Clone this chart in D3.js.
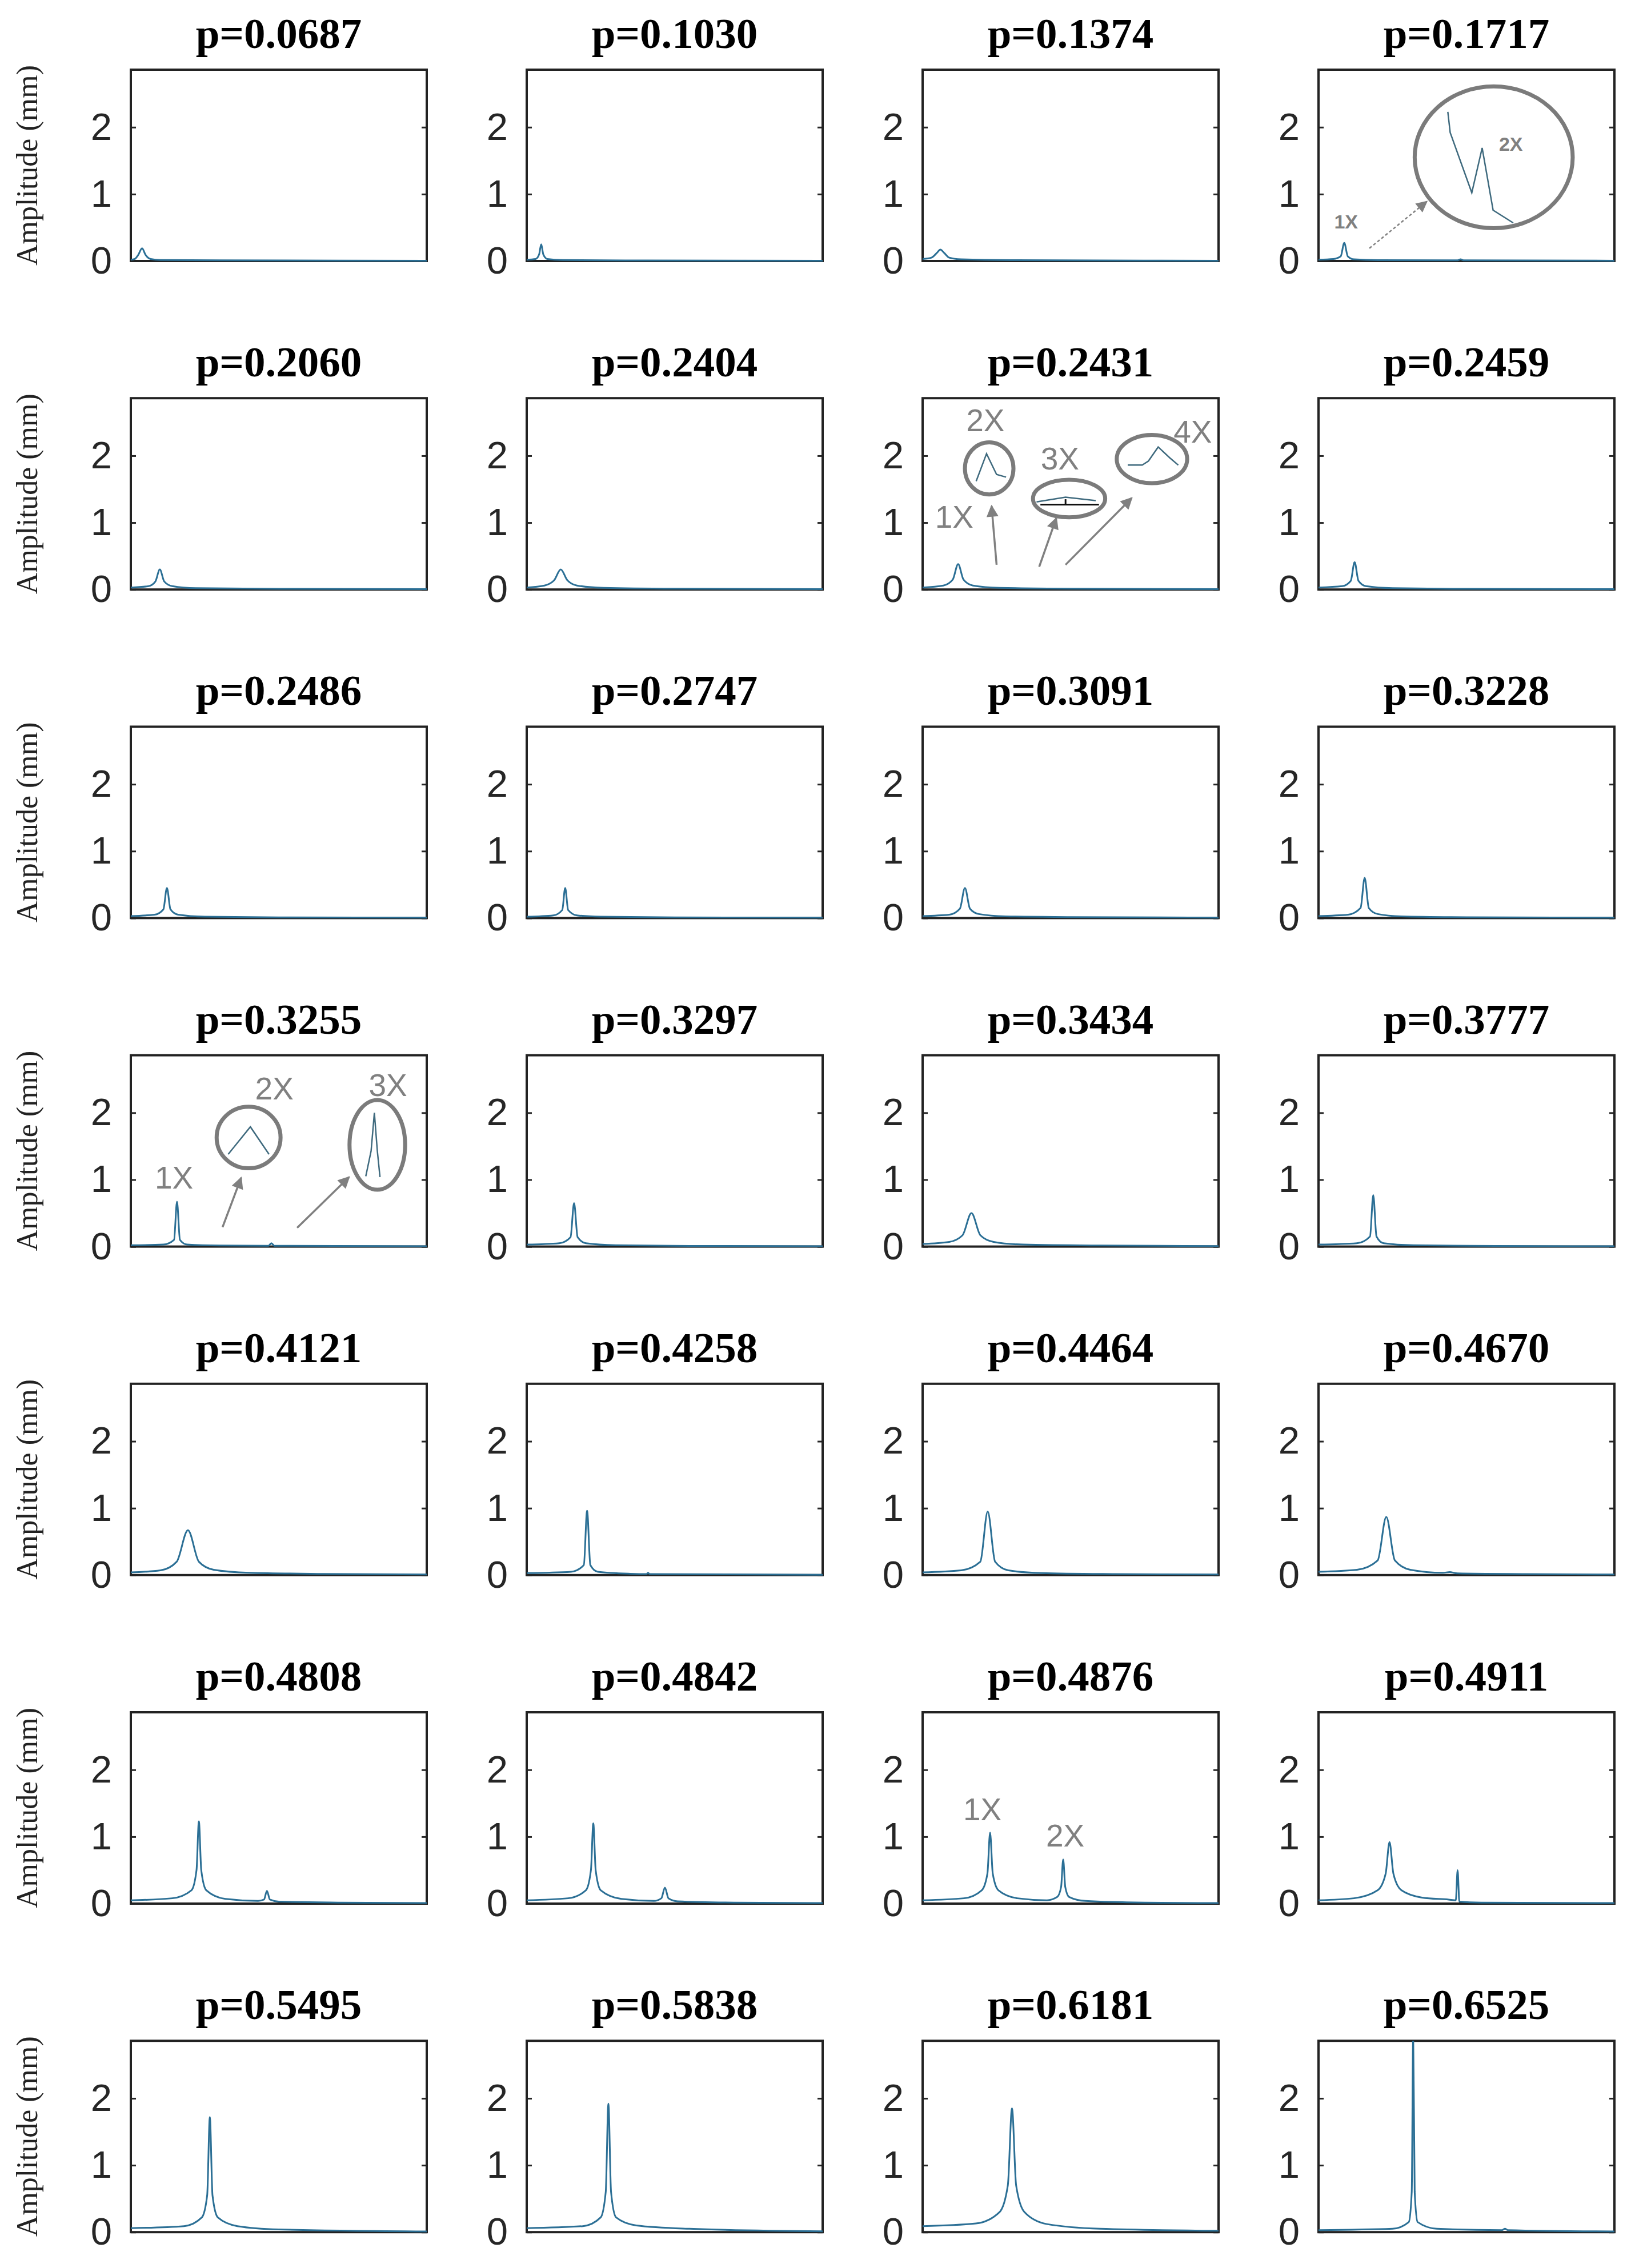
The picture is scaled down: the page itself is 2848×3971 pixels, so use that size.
<!DOCTYPE html>
<html><head><meta charset="utf-8">
<script src="https://cdn.jsdelivr.net/npm/d3@7"></script>
<style>html,body{margin:0;padding:0;background:#fff;} svg{display:block}</style>
</head><body><svg id="c" width="2848" height="3971"></svg>
<script>
// ---- Data (x = % of frequency span, y = amplitude in mm) ----
const titles = ["p=0.0687","p=0.1030","p=0.1374","p=0.1717",
  "p=0.2060","p=0.2404","p=0.2431","p=0.2459",
  "p=0.2486","p=0.2747","p=0.3091","p=0.3228",
  "p=0.3255","p=0.3297","p=0.3434","p=0.3777",
  "p=0.4121","p=0.4258","p=0.4464","p=0.4670",
  "p=0.4808","p=0.4842","p=0.4876","p=0.4911",
  "p=0.5495","p=0.5838","p=0.6181","p=0.6525"];
const yTicks = [0, 1, 2];
const yMax = 2.86;
const yLabel = "Amplitude (mm)";

const spec_0687 = [[0,0.02],[1.3,0.03],[2.5,0.09],[3.8,0.19],[5.0,0.09],[6.7,0.03],[10,0.015],[30,0.01],[100,0.005]];
const spec_1030 = [[0,0.02],[3,0.03],[4.2,0.1],[4.9,0.25],[5.6,0.1],[7,0.03],[12,0.015],[40,0.008],[100,0.005]];
const spec_1374 = [[0,0.03],[3,0.05],[4.8,0.12],[6.0,0.17],[7.3,0.12],[9,0.05],[13,0.025],[30,0.012],[100,0.005]];
const spec_1717 = [[0,0.02],[5,0.03],[7.5,0.07],[8.7,0.27],[9.9,0.07],[12,0.025],[20,0.012],[47,0.01],[48,0.025],[49,0.01],[100,0.005]];
const spec_2060 = [[0,0.03],[6,0.05],[8.3,0.12],[9.8,0.3],[11.3,0.12],[14,0.05],[22,0.02],[50,0.01],[100,0.005]];
const spec_2404 = [[0,0.03],[6,0.06],[9.3,0.14],[11.5,0.3],[13.7,0.14],[17,0.06],[26,0.025],[50,0.012],[100,0.006]];
const spec_2431 = [[0,0.03],[7,0.06],[10.2,0.15],[12,0.38],[13.8,0.15],[17,0.06],[26,0.025],[50,0.012],[100,0.006]];
const spec_2459 = [[0,0.03],[8,0.05],[10.9,0.13],[12.2,0.41],[13.5,0.13],[16,0.05],[25,0.02],[50,0.01],[100,0.005]];
const spec_2486 = [[0,0.03],[8,0.05],[11,0.13],[12.2,0.45],[13.4,0.13],[16,0.05],[25,0.02],[50,0.01],[100,0.005]];
const spec_2747 = [[0,0.02],[9,0.04],[12,0.12],[13,0.45],[14,0.12],[17,0.04],[25,0.02],[50,0.01],[100,0.005]];
const spec_3091 = [[0,0.03],[9,0.05],[12.6,0.14],[14.3,0.45],[16,0.14],[19,0.06],[28,0.025],[50,0.015],[100,0.006]];
const spec_3228 = [[0,0.03],[10,0.05],[14.2,0.15],[15.6,0.6],[17,0.15],[20,0.06],[28,0.025],[50,0.012],[100,0.005]];
const spec_3255 = [[0,0.02],[11,0.03],[14.6,0.1],[15.6,0.67],[16.6,0.1],[19,0.03],[30,0.015],[46.5,0.012],[47.5,0.05],[48.5,0.012],[100,0.005]];
const spec_3297 = [[0,0.03],[11,0.05],[14.8,0.14],[16,0.65],[17.2,0.14],[20,0.05],[30,0.02],[55,0.01],[100,0.005]];
const spec_3434 = [[0,0.04],[9,0.07],[13.5,0.17],[16.5,0.5],[19.5,0.17],[24,0.07],[34,0.03],[60,0.015],[100,0.008]];
const spec_3777 = [[0,0.03],[13,0.05],[17.4,0.15],[18.5,0.77],[19.6,0.15],[22,0.05],[32,0.02],[60,0.01],[100,0.005]];
const spec_4121 = [[0,0.04],[10,0.07],[15.5,0.2],[19.3,0.67],[23,0.2],[28,0.08],[40,0.035],[65,0.018],[100,0.01]];
const spec_4258 = [[0,0.03],[15,0.05],[19.3,0.15],[20.4,0.96],[21.5,0.15],[24,0.05],[35,0.02],[40.5,0.015],[41,0.035],[41.5,0.015],[100,0.005]];
const spec_4464 = [[0,0.04],[13,0.07],[19.5,0.2],[22,0.95],[24.5,0.2],[29,0.07],[40,0.03],[65,0.015],[100,0.008]];
const spec_4670 = [[0,0.05],[13,0.08],[20,0.22],[22.9,0.87],[25.8,0.22],[31,0.08],[42,0.035],[44.4,0.045],[47,0.025],[70,0.015],[100,0.008]];
const spec_4808 = [[0,0.05],[14,0.08],[20.5,0.2],[22.2,0.5],[23,1.23],[23.8,0.5],[25.5,0.2],[32,0.07],[43,0.04],[45,0.06],[46,0.19],[47,0.06],[50,0.03],[70,0.015],[100,0.008]];
const spec_4842 = [[0,0.05],[14,0.08],[20,0.2],[21.7,0.5],[22.5,1.2],[23.3,0.5],[25,0.2],[32,0.07],[43,0.04],[45.5,0.08],[46.7,0.24],[47.9,0.08],[51,0.035],[70,0.015],[100,0.008]];
const spec_4876 = [[0,0.05],[14,0.08],[20,0.2],[21.9,0.45],[22.8,1.06],[23.7,0.45],[25.6,0.2],[32,0.08],[42,0.05],[45.5,0.1],[46.8,0.25],[47.5,0.66],[48.2,0.25],[49.5,0.1],[55,0.04],[75,0.015],[100,0.008]];
const spec_4911 = [[0,0.05],[12,0.08],[20,0.2],[22.7,0.45],[24,0.92],[25.3,0.45],[28,0.2],[35,0.09],[44,0.06],[46.4,0.05],[47,0.5],[47.6,0.03],[55,0.015],[100,0.008]];
const spec_5495 = [[0,0.06],[18,0.09],[24,0.22],[25.8,0.55],[26.7,1.72],[27.6,0.55],[29.4,0.22],[36,0.09],[50,0.04],[100,0.01]];
const spec_5838 = [[0,0.06],[19,0.09],[25,0.22],[26.7,0.6],[27.6,1.92],[28.5,0.6],[30.2,0.22],[37,0.1],[55,0.05],[100,0.012]];
const spec_6181 = [[0,0.09],[18,0.13],[26,0.3],[28.8,0.7],[30.2,1.85],[31.6,0.7],[34.4,0.3],[42,0.12],[60,0.05],[100,0.02]];
const spec_6525 = [[0,0.03],[25,0.05],[30.5,0.15],[31.5,0.6],[32,2.95],[32.5,0.6],[33.5,0.15],[40,0.05],[62,0.03],[63,0.05],[64,0.03],[100,0.01]];

const spectra = [spec_0687,spec_1030,spec_1374,spec_1717,spec_2060,spec_2404,spec_2431,spec_2459,
  spec_2486,spec_2747,spec_3091,spec_3228,spec_3255,spec_3297,spec_3434,spec_3777,
  spec_4121,spec_4258,spec_4464,spec_4670,spec_4808,spec_4842,spec_4876,spec_4911,
  spec_5495,spec_5838,spec_6181,spec_6525];

// ---- Annotations (in each panel's data coordinates) ----
const annoLabels = [
  {panel:3, x:9.3, y:0.59, text:"1X", small:true},
  {panel:3, x:65, y:1.75, text:"2X", small:true},
  {panel:6, x:10.7, y:1.09, text:"1X"},
  {panel:6, x:21.2, y:2.53, text:"2X"},
  {panel:6, x:46.4, y:1.96, text:"3X"},
  {panel:6, x:91.3, y:2.36, text:"4X"},
  {panel:12, x:14.6, y:1.03, text:"1X"},
  {panel:12, x:48.5, y:2.36, text:"2X"},
  {panel:12, x:86.9, y:2.41, text:"3X"},
  {panel:22, x:20.2, y:1.41, text:"1X"},
  {panel:22, x:48.2, y:1.02, text:"2X"}
];
const annoRings = [
  {panel:3, x:59.2, y:1.55, rx:26.7, ry:1.06},
  {panel:6, x:22.5, y:1.81, rx:8.2, ry:0.39},
  {panel:6, x:49.5, y:1.36, rx:12.2, ry:0.28},
  {panel:6, x:77.5, y:1.95, rx:11.9, ry:0.36},
  {panel:12, x:39.8, y:1.63, rx:10.8, ry:0.46},
  {panel:12, x:83.3, y:1.52, rx:9.4, ry:0.67}
];
const annoInsets = [
  {panel:3, pts:[[43.7,2.23],[44.5,1.92],[51.8,1.02],[55.3,1.69],[59.0,0.76],[65.8,0.57]]},
  {panel:6, pts:[[18.1,1.62],[21.6,2.03],[25.0,1.72],[28.2,1.68]]},
  {panel:6, pts:[[38.5,1.31],[48.3,1.38],[58.5,1.33]]},
  {panel:6, pts:[[69.3,1.86],[74.2,1.86],[76.3,1.92],[79.6,2.13],[83.5,1.97],[86.4,1.86]]},
  {panel:12, pts:[[32.9,1.38],[40.4,1.79],[46.7,1.38]]},
  {panel:12, pts:[[79.4,1.05],[81.2,1.43],[82.3,2.0],[83.3,1.43],[84.2,1.04]]}
];
const annoInsetAxes = [
  {panel:6, pts:[[39.8,1.27],[59.6,1.27]]},
  {panel:6, pts:[[48.3,1.27],[48.3,1.35]]}
];
const annoArrows = [
  {panel:3, from:[17.2,0.19], to:[36.6,0.89], dotted:true},
  {panel:6, from:[25.0,0.37], to:[23.3,1.25]},
  {panel:6, from:[39.4,0.34], to:[45.2,1.07]},
  {panel:6, from:[48.3,0.37], to:[70.7,1.37]},
  {panel:12, from:[31,0.29], to:[37.3,1.03]},
  {panel:12, from:[56.2,0.28], to:[73.8,1.04]}
];

// ---- Layout ----
const nCols = 4;
const panelW = 518, panelH = 335;
const left0 = 229, colStep = 693;
const top0 = 122, rowStep = 575.2;
const lineColor = "#2b6f95";
const annoColor = "#808080";

const svg = d3.select("#c");
const defs = svg.append("defs");
defs.append("marker").attr("id","ah").attr("viewBox","0 0 10 10")
  .attr("refX",9).attr("refY",5).attr("markerWidth",7).attr("markerHeight",6)
  .attr("markerUnits","strokeWidth").attr("orient","auto")
  .append("path").attr("d","M0,0 L10,5 L0,10 z").attr("fill",annoColor);
defs.append("marker").attr("id","ahs").attr("viewBox","0 0 10 10")
  .attr("refX",9).attr("refY",5).attr("markerWidth",9).attr("markerHeight",8)
  .attr("markerUnits","strokeWidth").attr("orient","auto")
  .append("path").attr("d","M0,0 L10,5 L0,10 z").attr("fill",annoColor);

const scales = [];
spectra.forEach((data, i) => {
  const r = Math.floor(i / nCols), c = i % nCols;
  const x0 = left0 + c * colStep;
  const y0 = top0 + r * rowStep;
  const x = d3.scaleLinear().domain([0, 100]).range([x0, x0 + panelW]);
  const y = d3.scaleLinear().domain([0, yMax]).range([y0 + panelH, y0]);
  scales.push({x, y});
  const g = svg.append("g");

  // title
  g.append("text").attr("x", x0 + panelW / 2).attr("y", y0 - 38)
    .attr("text-anchor","middle")
    .style("font-family","'Liberation Serif','Times New Roman',serif")
    .style("font-weight","bold").style("font-size","75px").attr("fill","#000")
    .text(titles[i]);

  // y axis (labels + inner ticks)
  const ax = g.append("g").attr("transform",`translate(${x0},0)`)
    .call(d3.axisLeft(y).tickValues(yTicks).tickSize(-9).tickPadding(33).tickFormat(d3.format("d")));
  ax.select(".domain").remove();
  ax.selectAll("line").attr("stroke","#262626").attr("stroke-width",3);
  ax.selectAll("text").attr("fill","#262626")
    .style("font-family","'Liberation Sans',Arial,sans-serif").style("font-size","67px");
  const axr = g.append("g").attr("transform",`translate(${x0 + panelW},0)`)
    .call(d3.axisRight(y).tickValues(yTicks).tickSize(-9).tickFormat(""));
  axr.select(".domain").remove();
  axr.selectAll("line").attr("stroke","#262626").attr("stroke-width",3);

  // box
  g.append("rect").attr("x",x0).attr("y",y0).attr("width",panelW).attr("height",panelH)
    .attr("fill","none").attr("stroke","#222").attr("stroke-width",4);

  // y label for the first column
  if (c === 0) {
    g.append("text").attr("transform",`translate(47,${y0 + panelH / 2}) rotate(-90)`)
      .attr("text-anchor","middle").attr("dominant-baseline","central")
      .style("font-family","'Liberation Serif','Times New Roman',serif")
      .style("font-size","52px").attr("fill","#222").text(yLabel);
  }

  // clip + data line
  const cid = "clip" + i;
  defs.append("clipPath").attr("id",cid).append("rect")
    .attr("x",x0).attr("y",y0).attr("width",panelW).attr("height",panelH + 2);
  const line = d3.line().x(d => x(d[0])).y(d => y(d[1])).curve(d3.curveMonotoneX);
  g.append("path").datum(data).attr("clip-path",`url(#${cid})`)
    .attr("d", line).attr("fill","none").attr("stroke",lineColor)
    .attr("stroke-width",3).attr("stroke-linejoin","round");
});

// ---- Annotations ----
const ag = svg.append("g");
annoRings.forEach(a => {
  const s = scales[a.panel];
  ag.append("ellipse").attr("cx",s.x(a.x)).attr("cy",s.y(a.y))
    .attr("rx", s.x(a.x + a.rx) - s.x(a.x)).attr("ry", s.y(a.y - a.ry) - s.y(a.y))
    .attr("fill","none").attr("stroke","#7b7b7b").attr("stroke-width",7);
});
annoInsets.forEach(a => {
  const s = scales[a.panel];
  ag.append("path").datum(a.pts)
    .attr("d", d3.line().x(d => s.x(d[0])).y(d => s.y(d[1])))
    .attr("fill","none").attr("stroke","#3f6a7e").attr("stroke-width",2.5);
});
annoInsetAxes.forEach(a => {
  const s = scales[a.panel];
  ag.append("path").datum(a.pts)
    .attr("d", d3.line().x(d => s.x(d[0])).y(d => s.y(d[1])))
    .attr("fill","none").attr("stroke","#111").attr("stroke-width",3);
});
annoArrows.forEach(a => {
  const s = scales[a.panel];
  ag.append("line")
    .attr("x1",s.x(a.from[0])).attr("y1",s.y(a.from[1]))
    .attr("x2",s.x(a.to[0])).attr("y2",s.y(a.to[1]))
    .attr("stroke", annoColor)
    .attr("stroke-width", a.dotted ? 2.5 : 3.5)
    .attr("stroke-dasharray", a.dotted ? "5,4" : null)
    .attr("marker-end", a.dotted ? "url(#ahs)" : "url(#ah)");
});
annoLabels.forEach(a => {
  const s = scales[a.panel];
  ag.append("text").attr("x",s.x(a.x)).attr("y",s.y(a.y))
    .attr("text-anchor","middle").attr("dominant-baseline","central")
    .style("font-family","'Liberation Sans',Arial,sans-serif")
    .style("font-size", a.small ? "34px" : "55px")
    .style("font-weight", a.small ? "bold" : "normal")
    .attr("fill", annoColor).text(a.text);
});
</script></body></html>
